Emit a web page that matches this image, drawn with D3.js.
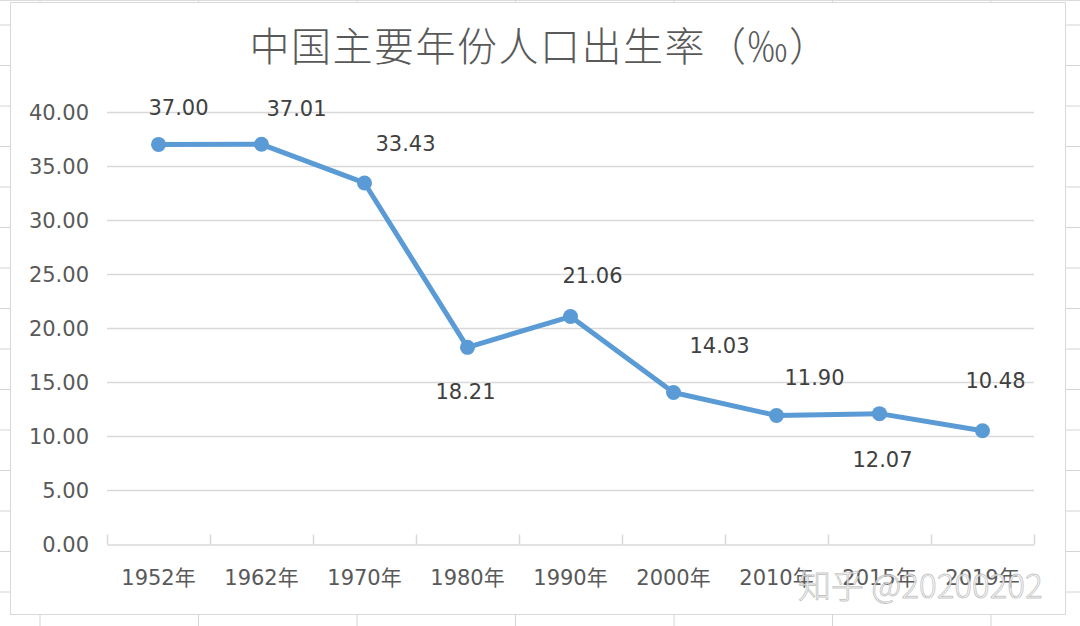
<!DOCTYPE html>
<html>
<head>
<meta charset="utf-8">
<script src="https://cdn.jsdelivr.net/npm/d3@7"></script>
<style>
  html, body { margin: 0; padding: 0; background: #fff; }
  svg { display: block; }
</style>
</head>
<body>
<svg id="chart" width="1080" height="626"></svg>
<script>
// ---- data ----
const categories = ["1952年", "1962年", "1970年", "1980年", "1990年", "2000年", "2010年", "2015年", "2019年"];
const birthRate = [37.00, 37.01, 33.43, 18.21, 21.06, 14.03, 11.90, 12.07, 10.48];
const yTicks = [0, 5, 10, 15, 20, 25, 30, 35, 40];
const titleText = "中国主要年份人口出生率（‰）";
const watermarkText = "知乎 @20200202";

// ---- layout (label placement relative to each point, as dragged in the original) ----
const labelOffsets = [[20, -37], [35, -36], [41, -40], [-2, 44], [22, -41], [46, -47], [38, -38], [3, 46], [13, -50]];

const W = 1080, H = 626;
const svg = d3.select("#chart");
const gridColor = "#d9d9d9";

// spreadsheet background grid
const bg = svg.append("g");
bg.append("rect").attr("width", W).attr("height", H).attr("fill", "#fff");
const colLines = d3.range(7).map(i => 40 + i * 158.5);
const rowLines = d3.range(15).map(i => 25 + i * 40.5);
bg.selectAll(".col").data(colLines).join("line")
  .attr("x1", d => d).attr("x2", d => d).attr("y1", 0).attr("y2", H)
  .attr("stroke", "#d4d4d4").attr("stroke-width", 1);
bg.selectAll(".row").data(rowLines).join("line")
  .attr("x1", 0).attr("x2", W).attr("y1", d => d).attr("y2", d => d)
  .attr("stroke", "#d4d4d4").attr("stroke-width", 1);
bg.append("line").attr("x1", 0).attr("x2", W).attr("y1", 0.5).attr("y2", 0.5)
  .attr("stroke", "#dcdcdc");

// chart frame
svg.append("rect")
  .attr("x", 10.5).attr("y", 2.5).attr("width", 1055).attr("height", 612)
  .attr("fill", "#fff").attr("stroke", "#d9d9d9").attr("stroke-width", 1);

// scales
const x = d3.scaleBand().domain(categories).range([107, 1034]).padding(0);
const y = d3.scaleLinear().domain([0, 40]).range([544, 112]);
const fmt = d3.format(".2f");
const numFont = "'DejaVu Sans', 'Noto Sans CJK SC', sans-serif";

// title
svg.append("text")
  .attr("x", 540).attr("y", 61)
  .attr("text-anchor", "middle")
  .attr("font-family", "'Noto Sans CJK SC', sans-serif")
  .attr("font-weight", 300)
  .attr("font-size", 40)
  .attr("letter-spacing", 1.5)
  .attr("fill", "#595959")
  .text(titleText);

// y gridlines (except baseline)
svg.append("g").selectAll("line").data(yTicks.filter(d => d !== 0)).join("line")
  .attr("x1", 107).attr("x2", 1034)
  .attr("y1", d => Math.round(y(d)) + 0.5).attr("y2", d => Math.round(y(d)) + 0.5)
  .attr("stroke", gridColor).attr("stroke-width", 1.5);

// y axis labels
const yAxis = d3.axisLeft(y).tickValues(yTicks).tickFormat(fmt).tickSize(0).tickPadding(0);
const yG = svg.append("g").attr("transform", "translate(89,0)").call(yAxis);
yG.select(".domain").remove();
yG.selectAll("text")
  .attr("font-family", numFont).attr("font-size", 21).attr("fill", "#595959")
  .attr("dy", "0.36em");

// x axis: baseline with inside (upward) ticks at category boundaries
const xAxis = d3.axisBottom(x).tickSize(0).tickPadding(0);
const xG = svg.append("g").attr("transform", `translate(0,${Math.round(y(0)) + 0.5})`).call(xAxis);
xG.select(".domain").attr("stroke", gridColor).attr("stroke-width", 1.5);
xG.selectAll("text")
  .attr("font-family", numFont).attr("font-size", 21).attr("fill", "#595959")
  .attr("dy", 0).attr("y", 40.5);
const boundaries = categories.map(c => x(c)).concat([x(categories[categories.length - 1]) + x.bandwidth()]);
xG.selectAll(".bt").data(boundaries).join("line")
  .attr("x1", d => Math.round(d) + 0.5).attr("x2", d => Math.round(d) + 0.5)
  .attr("y1", 0).attr("y2", -10)
  .attr("stroke", gridColor).attr("stroke-width", 1.5);

// series
const pts = categories.map((c, i) => ({ c, v: birthRate[i], i }));
const px = d => x(d.c) + x.bandwidth() / 2;
const line = d3.line().x(px).y(d => y(d.v));
svg.append("path").datum(pts)
  .attr("d", line)
  .attr("fill", "none")
  .attr("stroke", "#5b9bd5")
  .attr("stroke-width", 5)
  .attr("stroke-linejoin", "round");
svg.append("g").selectAll("circle").data(pts).join("circle")
  .attr("cx", px).attr("cy", d => y(d.v)).attr("r", 7.5)
  .attr("fill", "#5b9bd5");

// data labels
svg.append("g").selectAll("text").data(pts).join("text")
  .attr("x", d => px(d) + labelOffsets[d.i][0])
  .attr("y", d => y(d.v) + labelOffsets[d.i][1])
  .attr("dy", "0.36em")
  .attr("text-anchor", "middle")
  .attr("font-family", numFont).attr("font-size", 21).attr("fill", "#404040")
  .text(d => fmt(d.v));

// watermark (overlaps the last axis labels, as in the original screenshot)
svg.append("text")
  .attr("x", 798).attr("y", 598)
  .attr("font-family", "'Noto Sans CJK SC', sans-serif")
  .attr("font-weight", 300)
  .attr("font-size", 33)
  .attr("fill", "#ffffff").attr("fill-opacity", 0.8)
  .attr("stroke", "#8c8c8c").attr("stroke-opacity", 0.5).attr("stroke-width", 0.9)
  .text(watermarkText);
</script>
</body>
</html>
